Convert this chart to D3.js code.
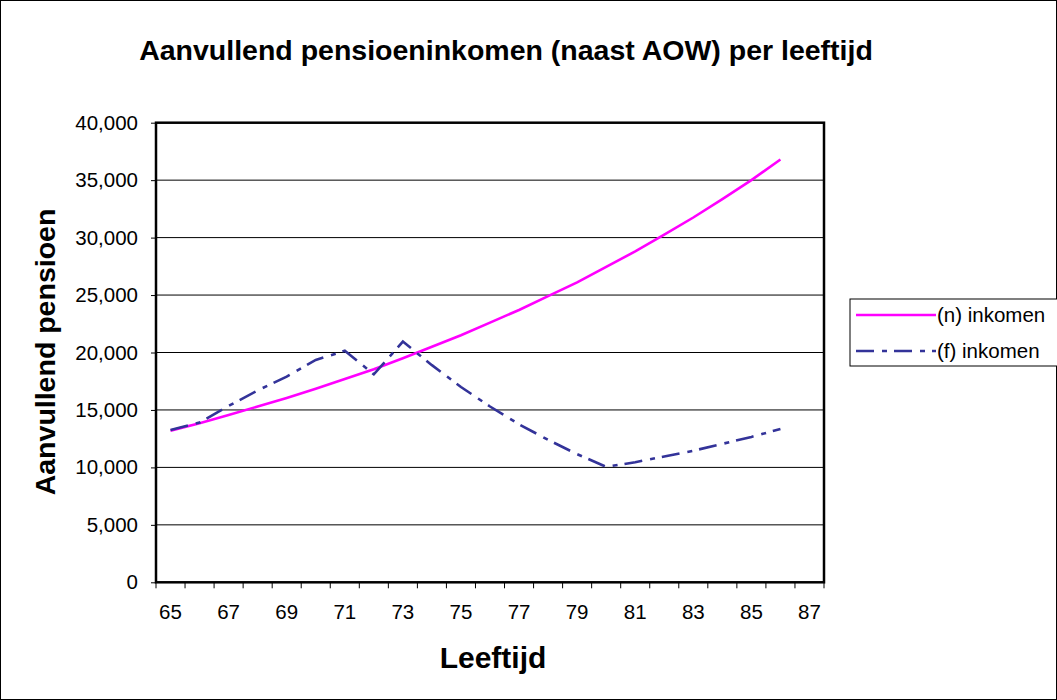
<!DOCTYPE html>
<html>
<head>
<meta charset="utf-8">
<script src="https://cdn.jsdelivr.net/npm/d3@7/dist/d3.min.js"></script>
<style>
  body { margin: 0; background: #fff; }
  svg { font-family: "Liberation Sans", Arial, sans-serif; }
</style>
</head>
<body>
<div id="chart"></div>
<script>
// ages on the category axis (65..87), data runs to 86
var ages = d3.range(65, 88);
var yTicks = [0, 5000, 10000, 15000, 20000, 25000, 30000, 35000, 40000];
var xLabels = [65, 67, 69, 71, 73, 75, 77, 79, 81, 83, 85, 87];

// (n) inkomen
var nValues = [13200, 13850, 14550, 15300, 16050, 16850, 17700, 18550, 19500, 20500, 21500,
    22600, 23700, 24900, 26100, 27450, 28800, 30250, 31750, 33350, 35000, 36800];
// (f) inkomen
var fValues = [13250, 13900, 15350, 16700, 17900, 19350, 20150, 18100, 20950, 18900, 17000,
    15300, 13750, 12400, 11150, 10050, 10450, 10950, 11450, 12050, 12650, 13350];

var seriesNames = ["(n) inkomen", "(f) inkomen"];

var width = 1057, height = 700;
var plotLeft = 156, plotRight = 824, plotTop = 122.7, plotBottom = 582.3;
var fontFamily = "'Liberation Sans', Arial, sans-serif";

var svg = d3.select("#chart").append("svg")
    .attr("width", width)
    .attr("height", height);

// outer chart border
svg.append("rect")
    .attr("x", 0.5).attr("y", 0.5)
    .attr("width", width - 1).attr("height", height - 1)
    .attr("fill", "#fff").attr("stroke", "#000").attr("stroke-width", 1);

var x = d3.scaleBand().domain(ages).range([plotLeft, plotRight]);
var y = d3.scaleLinear().domain([0, 40000]).range([plotBottom, plotTop]);

// gridlines
svg.append("g")
    .selectAll("line")
    .data(yTicks.slice(1, -1))
    .enter()
    .append("line")
    .attr("x1", plotLeft).attr("x2", plotRight)
    .attr("y1", function(d) { return y(d); })
    .attr("y2", function(d) { return y(d); })
    .attr("stroke", "#000")
    .attr("stroke-width", 1);

// y axis
var yAxis = d3.axisLeft(y)
    .tickValues(yTicks)
    .tickSize(5)
    .tickPadding(13)
    .tickFormat(d3.format(","));
var yg = svg.append("g")
    .attr("transform", "translate(" + plotLeft + ",0)")
    .call(yAxis);
yg.select(".domain").remove();
yg.selectAll("text").attr("font-size", "20.5px").attr("fill", "#000")
    .attr("font-family", fontFamily);
yg.selectAll("line").attr("stroke", "#000");

// x axis: ticks between categories
var tickPos = ages.map(function(a) { return x(a); }).concat([plotRight]);
var xg = svg.append("g");
xg.selectAll("line")
    .data(tickPos)
    .enter()
    .append("line")
    .attr("x1", function(d) { return d; })
    .attr("x2", function(d) { return d; })
    .attr("y1", plotBottom).attr("y2", plotBottom + 6)
    .attr("stroke", "#000");
xg.selectAll("text")
    .data(xLabels)
    .enter()
    .append("text")
    .attr("x", function(d) { return x(d) + x.bandwidth() / 2; })
    .attr("y", plotBottom + 37)
    .attr("text-anchor", "middle")
    .attr("font-size", "20.5px")
    .text(function(d) { return d; });

// plot area border
svg.append("rect")
    .attr("x", plotLeft).attr("y", plotTop)
    .attr("width", plotRight - plotLeft).attr("height", plotBottom - plotTop)
    .attr("fill", "none").attr("stroke", "#000").attr("stroke-width", 2.5);

var line = d3.line()
    .x(function(d, i) { return x(ages[i]) + x.bandwidth() / 2; })
    .y(function(d) { return y(d); });

svg.append("path")
    .datum(nValues)
    .attr("d", line)
    .attr("fill", "none")
    .attr("stroke", "#ff00ff")
    .attr("stroke-width", 2.6);

svg.append("path")
    .datum(fValues)
    .attr("d", line)
    .attr("fill", "none")
    .attr("stroke", "#333399")
    .attr("stroke-width", 2.6)
    .attr("stroke-dasharray", "18,8,5,7");

// titles
svg.append("text")
    .attr("x", 506).attr("y", 60)
    .attr("text-anchor", "middle")
    .attr("font-size", "28.5px")
    .attr("font-weight", "bold")
    .text("Aanvullend pensioeninkomen (naast AOW) per leeftijd");

svg.append("text")
    .attr("transform", "translate(55,352) rotate(-90)")
    .attr("text-anchor", "middle")
    .attr("font-size", "28.5px")
    .attr("font-weight", "bold")
    .text("Aanvullend pensioen");

svg.append("text")
    .attr("x", 493).attr("y", 668)
    .attr("text-anchor", "middle")
    .attr("font-size", "30px")
    .attr("font-weight", "bold")
    .text("Leeftijd");

// legend
var legend = svg.append("g");
legend.append("rect")
    .attr("x", 850).attr("y", 299)
    .attr("width", 212).attr("height", 67)
    .attr("fill", "#fff").attr("stroke", "#000").attr("stroke-width", 1);

var legendColors = ["#ff00ff", "#333399"];
var legendDash = [null, "18,8,5,7"];
seriesNames.forEach(function(name, i) {
    var ly = 315 + i * 36;
    legend.append("line")
        .attr("x1", 856).attr("x2", 936)
        .attr("y1", ly).attr("y2", ly)
        .attr("stroke", legendColors[i])
        .attr("stroke-width", 2.6)
        .attr("stroke-dasharray", legendDash[i]);
    legend.append("text")
        .attr("x", 937).attr("y", ly + 7)
        .attr("font-size", "20.5px")
        .text(name);
});
</script>
</body>
</html>
